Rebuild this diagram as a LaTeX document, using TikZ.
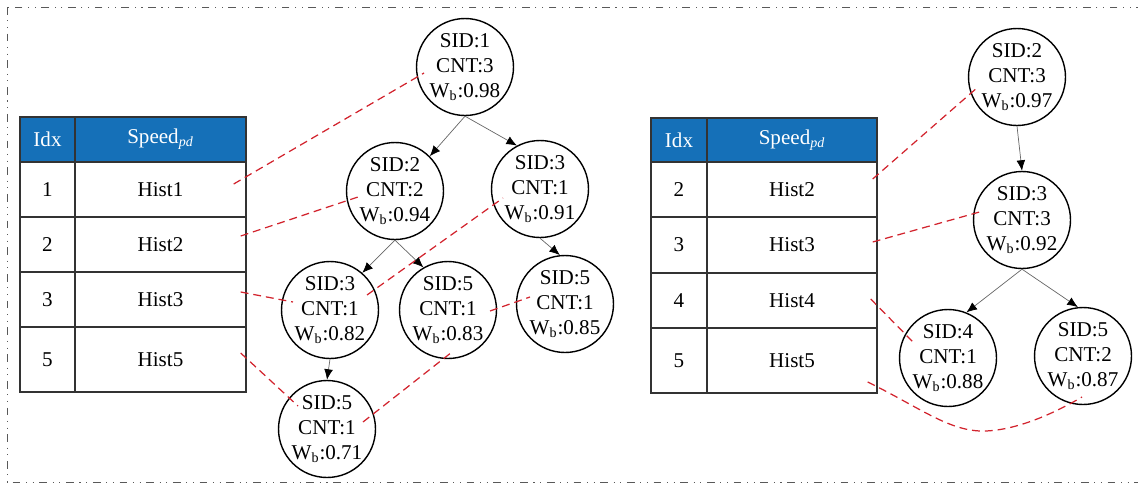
\documentclass[tikz,border=0pt]{standalone}
\usepackage{fontspec}
\setmainfont{Liberation Serif}
\usetikzlibrary{arrows.meta}
\definecolor{hdrblue}{RGB}{21,112,184}
\definecolor{linkred}{RGB}{210,35,45}
\begin{document}
\begin{tikzpicture}[x=0.02cm,y=-0.02cm,
    font=\fontsize{12}{14.4}\selectfont,
    tnode/.style={circle,draw,line width=0.8pt,minimum size=1.94cm,inner sep=-3pt,align=center},
    cell/.style={draw=black!80,line width=0.8pt,inner sep=0pt,minimum height=1.1cm},
    hdr/.style={cell,fill=hdrblue,text=white,minimum height=0.9cm},
    treearrow/.style={draw=black!60,line width=0.4pt,-{Latex[length=6pt,width=5pt,color=black]}},
    nodelink/.style={draw=linkred,line width=0.7pt,dash pattern=on 4.5pt off 2.8pt}]
    \useasboundingbox (0,0) rectangle (1138,487);
    \draw[black!65,line width=0.5pt,dash pattern=on 4.4pt off 3.2pt on 0.6pt off 3.2pt on 0.6pt off 3.2pt]
    (7,7) rectangle (1142,482);
    % left table
    \node[hdr,minimum width=1.1cm] (Li) at (47.5,139.5) {Idx};
    \node[hdr,minimum width=3.42cm] (Ls) at (160.5,139.5) {Speed\textsubscript{\textit{pd}}};
    \node[cell,minimum width=1.1cm] (Li1) at (47.5,189.5) {1};
    \node[cell,minimum width=3.42cm] (L1) at (160.5,189.5) {Hist1};
    \node[cell,minimum width=1.1cm] (Li2) at (47.5,244.5) {2};
    \node[cell,minimum width=3.42cm] (L2) at (160.5,244.5) {Hist2};
    \node[cell,minimum width=1.1cm] (Li3) at (47.5,299.5) {3};
    \node[cell,minimum width=3.42cm] (L3) at (160.5,299.5) {Hist3};
    \node[cell,minimum width=1.1cm,minimum height=1.3cm] (Li5) at (47.5,359.5) {5};
    \node[cell,minimum width=3.42cm,minimum height=1.3cm] (L5) at (160.5,359.5) {Hist5};
    % left tree
    \node[tnode] (s1) at (465,67) {SID:1\\CNT:3\\W\textsubscript{b}:0.98};
    \node[tnode] (s2) at (395,191) {SID:2\\CNT:2\\W\textsubscript{b}:0.94};
    \node[tnode] (s3) at (540,189) {SID:3\\CNT:1\\W\textsubscript{b}:0.91};
    \node[tnode] (s3b) at (330,310) {SID:3\\CNT:1\\W\textsubscript{b}:0.82};
    \node[tnode] (s5b) at (448,310) {SID:5\\CNT:1\\W\textsubscript{b}:0.83};
    \node[tnode] (s5c) at (565,304) {SID:5\\CNT:1\\W\textsubscript{b}:0.85};
    \node[tnode] (s5d) at (327,429) {SID:5\\CNT:1\\W\textsubscript{b}:0.71};
    \draw[treearrow] (s1.south) -- (s2.45);
    \draw[treearrow] (s1.south) -- (s3.118);
    \draw[treearrow] (s2.south) -- (s3b.49);
    \draw[treearrow] (s2.south) -- (s5b.120);
    \draw[treearrow] (s3.south) -- (s5c.96);
    \draw[treearrow] (s3b.south) -- (s5d.north);
    % left links
    \draw[nodelink] ([shift={(-13,-5.5)}]L1.east) -- ([shift={(-41,6)}]s1.center);
    \draw[nodelink] ([shift={(-6,-8.5)}]L2.east) -- ([shift={(-37,6)}]s2.center);
    \draw[nodelink] ([shift={(-6,-7.5)}]L3.east) -- ([shift={(-37,-8)}]s3b.center);
    \draw[nodelink] ([shift={(37,-15)}]s3b.center) -- ([shift={(-37,9)}]s3.center);
    \draw[nodelink] ([shift={(-6,-6.5)}]L5.east) -- ([shift={(-29,-23)}]s5d.center);
    \draw[nodelink] ([shift={(36,-7)}]s5d.center) -- ([shift={(4,42)}]s5b.center);
    \draw[nodelink] ([shift={(42,1)}]s5b.center) -- ([shift={(-35,-7)}]s5c.center);
    % right table
    \node[hdr,minimum width=1.12cm,minimum height=0.88cm] (Ri) at (679,140) {Idx};
    \node[hdr,minimum width=3.4cm,minimum height=0.88cm] (Rs) at (792,140) {Speed\textsubscript{\textit{pd}}};
    \node[cell,minimum width=1.12cm] (Ri2) at (679,189.5) {2};
    \node[cell,minimum width=3.4cm] (R2) at (792,189.5) {Hist2};
    \node[cell,minimum width=1.12cm,minimum height=1.12cm] (Ri3) at (679,245) {3};
    \node[cell,minimum width=3.4cm,minimum height=1.12cm] (R3) at (792,245) {Hist3};
    \node[cell,minimum width=1.12cm] (Ri4) at (679,300.5) {4};
    \node[cell,minimum width=3.4cm] (R4) at (792,300.5) {Hist4};
    \node[cell,minimum width=1.12cm,minimum height=1.3cm] (Ri5) at (679,360.5) {5};
    \node[cell,minimum width=3.4cm,minimum height=1.3cm] (R5) at (792,360.5) {Hist5};
    % right tree
    \node[tnode] (t2) at (1017,77) {SID:2\\CNT:3\\W\textsubscript{b}:0.97};
    \node[tnode] (t3) at (1022,220) {SID:3\\CNT:3\\W\textsubscript{b}:0.92};
    \node[tnode] (t4) at (948,358) {SID:4\\CNT:1\\W\textsubscript{b}:0.88};
    \node[tnode] (t5) at (1083,356) {SID:5\\CNT:2\\W\textsubscript{b}:0.87};
    \draw[treearrow] (t2.south) -- (t3.north);
    \draw[treearrow] (t3.south) -- (t4.68);
    \draw[treearrow] (t3.south) -- (t5.96);
    % right links
    \coordinate (dip) at (985,431);
    \draw[nodelink] ([shift={(-5,-10.5)}]R2.east) -- ([shift={(-39,10)}]t2.center);
    \draw[nodelink] ([shift={(-5,-3)}]R3.east) -- ([shift={(-39,-9)}]t3.center);
    \draw[nodelink] ([shift={(-7,-1.5)}]R4.east) -- ([shift={(-35,-16)}]t4.center);
    \draw[nodelink] ([shift={(-10,21.5)}]R5.east) .. controls +(53,26) and +(-35,1) .. (dip)
    .. controls +(35,-1) and +(-22,13) .. ([shift={(-1,41)}]t5.center);
\end{tikzpicture}
\end{document}
